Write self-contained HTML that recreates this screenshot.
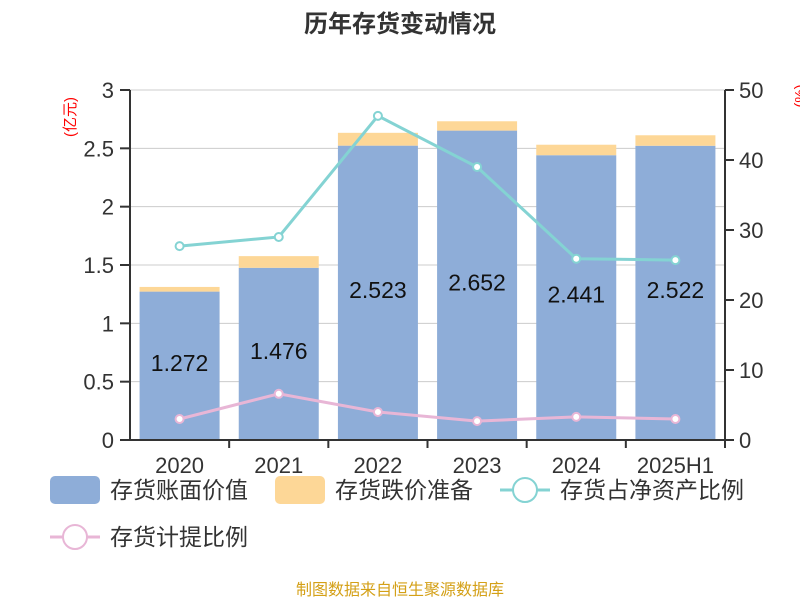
<!DOCTYPE html>
<html><head><meta charset="utf-8"><style>
body{margin:0;background:#fff;}
svg{font-family:"Liberation Sans","Noto Sans CJK SC",sans-serif;}
</style></head><body>
<svg id="chart" width="800" height="600">
<text x="400" y="32" text-anchor="middle" font-size="24" font-weight="bold" fill="#333">历年存货变动情况</text>
<text transform="translate(75,117) rotate(-90)" text-anchor="middle" font-size="15" fill="#f00">(亿元)</text>
<text transform="translate(805,96) rotate(-90)" text-anchor="middle" font-size="15" fill="#f00">(%)</text>
<g id="grid"></g><g id="bars"></g><g id="lines"></g><g id="axes"></g>
<g font-size="23" fill="#333">
<rect x="50" y="476" width="50" height="28" rx="5" fill="#8eadd8"/>
<text x="110" y="498">存货账面价值</text>
<rect x="275" y="476" width="50" height="28" rx="5" fill="#fdd797"/>
<text x="335" y="498">存货跌价准备</text>
<line x1="500" y1="490" x2="550" y2="490" stroke="#84d3d3" stroke-width="3"/>
<circle cx="525" cy="490" r="12" fill="#fff" stroke="#84d3d3" stroke-width="2"/>
<text x="560" y="498">存货占净资产比例</text>
<line x1="50" y1="537" x2="100" y2="537" stroke="#e8b6d6" stroke-width="3"/>
<circle cx="75" cy="537" r="12" fill="#fff" stroke="#e8b6d6" stroke-width="2"/>
<text x="110" y="545">存货计提比例</text>
</g>
<text x="400" y="595" text-anchor="middle" font-size="16" fill="#d4a017">制图数据来自恒生聚源数据库</text>
</svg>
<script>
const categories=["2020","2021","2022","2023","2024","2025H1"];
const bookValue=[1.272,1.476,2.523,2.652,2.441,2.522];
const impairment=[0.04,0.10,0.11,0.08,0.09,0.09];
const netAssetRatio=[27.7,29.0,46.3,39.0,25.9,25.7];
const provisionRatio=[3.0,6.6,4.0,2.7,3.3,3.0];
const leftTicks=[0,0.5,1,1.5,2,2.5,3];
const rightTicks=[0,10,20,30,40,50];
const NS="http://www.w3.org/2000/svg";
const X0=130,X1=725,Y0=440,Y1=90;
const bw=(X1-X0)/categories.length;
const xc=i=>X0+bw*(i+0.5);
const yl=v=>Y0-(v/3)*(Y0-Y1);
const yr=v=>Y0-(v/50)*(Y0-Y1);
function mk(tag,attrs,parent,text){const e=document.createElementNS(NS,tag);for(const k in attrs)e.setAttribute(k,attrs[k]);if(text!=null)e.textContent=text;document.getElementById(parent).appendChild(e);return e;}
leftTicks.forEach(t=>{
 if(t>0){const g=mk('line',{x1:X0,x2:X1,y1:yl(t),y2:yl(t),stroke:'#ccc','stroke-width':1},'grid');
 
 }
 const tk=mk('line',{x1:X0-10,x2:X0,y1:yl(t),y2:yl(t),stroke:'#333','stroke-width':2},'axes');
 
 
 const tl=mk('text',{x:X0-16,y:yl(t)+8,'text-anchor':'end','font-size':22,fill:'#333'},'axes',String(t));
 
 
});
rightTicks.forEach(t=>{
 const tk=mk('line',{x1:X1,x2:X1+9,y1:yr(t),y2:yr(t),stroke:'#333','stroke-width':2},'axes');
 
 
 const tl=mk('text',{x:X1+14,y:yr(t)+8,'font-size':22,fill:'#333'},'axes',String(t));
 
 
});
let a=mk('line',{x1:X0,x2:X0,y1:Y1,y2:Y0,stroke:'#333','stroke-width':2},'axes');


a=mk('line',{x1:X1,x2:X1,y1:Y1,y2:Y0,stroke:'#333','stroke-width':2},'axes');


a=mk('line',{x1:X0,x2:X1,y1:Y0,y2:Y0,stroke:'#333','stroke-width':2},'axes');


categories.forEach((c,i)=>{
 const w=80,x=xc(i)-w/2;
 const b=mk('rect',{x:x,width:w,y:yl(bookValue[i]),height:Y0-yl(bookValue[i]),fill:'#8eadd8'},'bars');
 
 
 const top=bookValue[i]+impairment[i];
 const r=mk('rect',{x:x,width:w,y:yl(top),height:yl(bookValue[i])-yl(top),fill:'#fdd797'},'bars');
 
 
 const t=mk('text',{x:xc(i),y:(yl(bookValue[i])+Y0)/2+5,'text-anchor':'middle','font-size':23,fill:'#111'},'bars',bookValue[i].toFixed(3));
 
 
 const tk=mk('line',{x1:X0+bw*(i+1),x2:X0+bw*(i+1),y1:Y0,y2:Y0+8,stroke:'#333','stroke-width':2},'axes');
 
 
 const xl=mk('text',{x:xc(i),y:Y0+33,'text-anchor':'middle','font-size':22,fill:'#333'},'axes',c);
 
 
});
function series(vals,color,name){
 const p=mk('polyline',{points:vals.map((v,i)=>xc(i)+','+yr(v)).join(' '),fill:'none',stroke:color,'stroke-width':3},'lines');
 
 
 vals.forEach((v,i)=>{const c=mk('circle',{cx:xc(i),cy:yr(v),r:4,fill:'#fff',stroke:color,'stroke-width':2},'lines');
 
 });
}
series(netAssetRatio,'#84d3d3','net-asset-ratio');
series(provisionRatio,'#e8b6d6','provision-ratio');
</script>
</body></html>
